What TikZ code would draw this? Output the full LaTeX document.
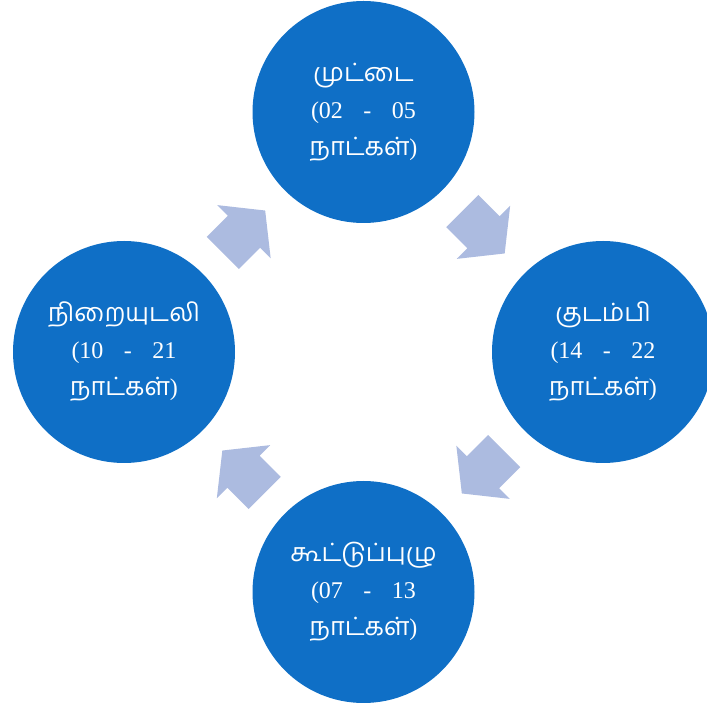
\documentclass[tikz,border=0pt]{standalone}
\usepackage{fontspec}
\setmainfont{Liberation Serif}
\newfontfamily\tamilfont[Script=Tamil,Scale=1.05]{Hind Madurai}
\usetikzlibrary{shapes.arrows}

\definecolor{stageblue}{RGB}{15,111,198}
\definecolor{arrowblue}{RGB}{172,187,224}

\tikzset{
  stage/.style={circle, fill=stageblue, minimum size=222pt, inner sep=0pt,
    text=white, align=center, font=\fontsize{24}{37}\selectfont},
  cyclearrow/.style={single arrow, fill=arrowblue, minimum height=60pt,
    inner xsep=0pt, inner ysep=22.5pt, single arrow head extend=15pt,
    single arrow tip angle=103, anchor=tail, pos=0.244, sloped,
    allow upside down}
}

\newcommand{\stagelines}[3]{{\tamilfont #1}\\\makebox[105pt][s]{(#2 - #3}\\{\tamilfont நாட்கள்})}

\begin{document}
\begin{tikzpicture}[x=1pt,y=1pt]
\useasboundingbox (0,0) rectangle (707,704);
\clip (0,0) rectangle (707,704);

\node[stage] (egg) at (363.5,592) {\stagelines{முட்டை}{02}{05}};
\node[stage] (larva) at (603,352) {\stagelines{குடம்பி}{14}{22}};
\node[stage] (pupa) at (363.5,112) {\stagelines{கூட்டுப்புழு}{07}{13}};
\node[stage] (adult) at (124,352) {\stagelines{நிறையுடலி}{10}{21}};

\path (egg) -- (larva) node[cyclearrow] (egglarva) {};
\path (larva) -- (pupa) node[cyclearrow] (larvapupa) {};
\path (pupa) -- (adult) node[cyclearrow] (pupaadult) {};
\path (adult) -- (egg) node[cyclearrow] (adultegg) {};
\end{tikzpicture}
\end{document}
